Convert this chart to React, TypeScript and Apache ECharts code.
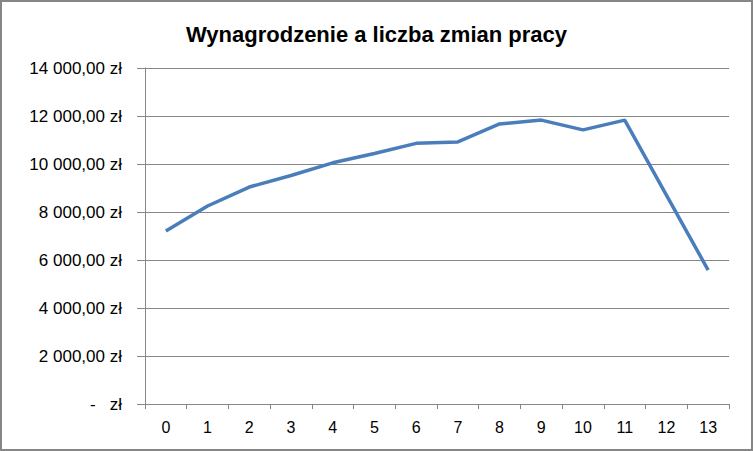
import React, { useEffect, useRef } from "react";
import * as echarts from "echarts";

const categories = ["0", "1", "2", "3", "4", "5", "6", "7", "8", "9", "10", "11", "12", "13"];
const salary = [7210, 8250, 9040, 9520, 10050, 10440, 10860, 10920, 11670, 11830, 11420, 11830, 8700, 5580];
const title = "Wynagrodzenie a liczba zmian pracy";

function fmt(v: number): string {
  if (v === 0) return "-   zł";
  const s = Math.round(v).toString().replace(/\B(?=(\d{3})+(?!\d))/g, " ");
  return s + ",00 zł";
}

export default function App() {
  const ref = useRef<HTMLDivElement>(null);
  useEffect(() => {
    if (!ref.current) return;
    const chart = echarts.init(ref.current, undefined, { renderer: "svg" });
    chart.setOption({
      animation: false,
      backgroundColor: "#ffffff",
      title: {
        text: title,
        left: "center",
        top: 18,
        textStyle: { fontFamily: "Liberation Sans, Arial", fontSize: 22, fontWeight: "bold", color: "#000" },
      },
      graphic: [
        {
          type: "rect",
          shape: { x: 1, y: 1, width: 751, height: 449 },
          style: { fill: "none", stroke: "#868686", lineWidth: 2 },
          silent: true,
        },
      ],
      grid: { left: 145, right: 24, top: 68, bottom: 47 },
      xAxis: {
        type: "category",
        data: categories,
        boundaryGap: true,
        axisLine: { lineStyle: { color: "#868686", width: 1 } },
        axisTick: { show: true, length: 5, alignWithLabel: false, lineStyle: { color: "#868686" } },
        axisLabel: { color: "#000", fontFamily: "Liberation Sans, Arial", fontSize: 16, margin: 15 },
      },
      yAxis: {
        type: "value",
        min: 0,
        max: 14000,
        interval: 2000,
        axisLine: { show: true, lineStyle: { color: "#868686", width: 1 } },
        axisTick: { show: true, length: 8, lineStyle: { color: "#868686" } },
        splitLine: { show: true, lineStyle: { color: "#868686", width: 1 } },
        axisLabel: {
          color: "#000",
          fontFamily: "Liberation Sans, Arial",
          fontSize: 17,
          margin: 23,
          formatter: (v: number) => fmt(v),
        },
      },
      series: [
        {
          type: "line",
          data: salary,
          symbol: "none",
          lineStyle: { color: "#4A7EBB", width: 3.5 },
        },
      ],
    });
    return () => chart.dispose();
  }, []);
  return <div ref={ref} style={{ width: 753, height: 451, position: "absolute", left: 0, top: 0 }} />;
}
